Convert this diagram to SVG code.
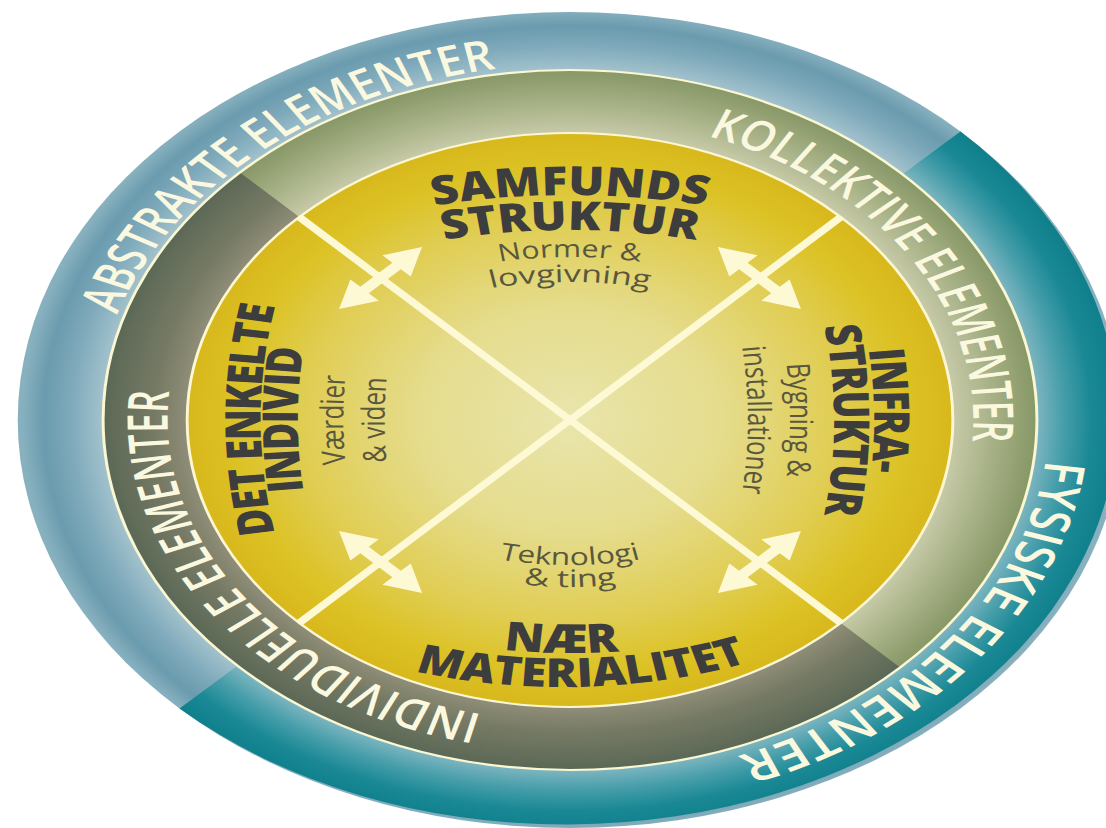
<svg xmlns="http://www.w3.org/2000/svg" width="1106" height="828" viewBox="0 0 1106 828">
<style>
.ring{font-family:"Open Sans","DejaVu Sans",sans-serif;font-weight:600;font-size:42px;fill:#fbf8e0}
.title{font-family:"Open Sans","DejaVu Sans",sans-serif;font-weight:800;font-size:40px;fill:#3d3d3d}
.vtitle{font-family:"Open Sans","DejaVu Sans",sans-serif;font-weight:800;font-size:37px;letter-spacing:-1px;fill:#3d3d3d}
.sub{font-family:"Open Sans","DejaVu Sans",sans-serif;font-weight:400;font-size:24px;fill:#59573d}
.sep{fill:none;stroke:#fbf7d2;stroke-width:2.2}
.diag{stroke:#fdf9d5;stroke-width:6.5;fill:none}
.arrow{fill:#fdf9d5}
</style>
<defs>
<radialGradient id="gBlue" gradientUnits="userSpaceOnUse" cx="0" cy="0" r="411">
<stop offset="0.85" stop-color="#a4c3cd"/>
<stop offset="0.91" stop-color="#7faabb"/>
<stop offset="0.96" stop-color="#6a9bae"/>
<stop offset="1" stop-color="#88b1bf"/>
</radialGradient>
<radialGradient id="gTeal" gradientUnits="userSpaceOnUse" cx="0" cy="0" r="411">
<stop offset="0.85" stop-color="#7fb6c1"/>
<stop offset="0.9" stop-color="#469eaa"/>
<stop offset="0.95" stop-color="#1a8995"/>
<stop offset="1" stop-color="#0e7f8b"/>
</radialGradient>
<radialGradient id="gGreen" gradientUnits="userSpaceOnUse" cx="0" cy="0" r="350">
<stop offset="0.82" stop-color="#c7caa8"/>
<stop offset="0.9" stop-color="#a9b388"/>
<stop offset="1" stop-color="#879766"/>
</radialGradient>
<radialGradient id="gDark" gradientUnits="userSpaceOnUse" cx="0" cy="0" r="350">
<stop offset="0.82" stop-color="#908e78"/>
<stop offset="0.89" stop-color="#767a64"/>
<stop offset="1" stop-color="#5b6856"/>
</radialGradient>
<radialGradient id="gYellow" gradientUnits="userSpaceOnUse" cx="0" cy="0" r="287">
<stop offset="0" stop-color="#e9e5ac"/>
<stop offset="0.4" stop-color="#e5dc8c"/>
<stop offset="0.7" stop-color="#e0cd52"/>
<stop offset="0.88" stop-color="#dcc224"/>
<stop offset="1" stop-color="#d8b81c"/>
</radialGradient>
<path id="pAbs" d="M -273 234.5 A 360 360 0 0 1 271.5 -236.4"/>
<path id="pFys" d="M 226.5 -279.8 A 360 360 0 0 1 -216.6 287.5"/>
<path id="pKol" d="M -160 -256.1 A 302 302 0 0 1 168.9 250.4"/>
<path id="pInd" d="M 173.2 247.4 A 302 302 0 0 1 -181.7 -241.2"/>
<path id="pSam" d="M -321.4 -108 A 500 500 0 0 1 321.4 -108"/>
<path id="pStr" d="M -289.3 -84.7 A 450 450 0 0 1 289.3 -84.7"/>
<path id="pNor" d="M -212.1 -75.1 A 300 300 0 0 1 212.1 -75.1"/>
<path id="pLov" d="M -212.1 -50.1 A 300 300 0 0 1 212.1 -50.1"/>
<path id="pTek" d="M -176.8 71.8 A 250 250 0 0 0 176.8 71.8"/>
<path id="pTing" d="M -176.8 93.8 A 250 250 0 0 0 176.8 93.8"/>
<path id="pNaer" d="M -257.1 139.4 A 400 400 0 0 0 257.1 139.4"/>
<path id="pMat" d="M -257.1 173.4 A 400 400 0 0 0 257.1 173.4"/>
<path id="pDet" d="M -195.8 205.2 A 600 600 0 0 1 -195.8 -205.2"/>
<path id="pIndv" d="M -167.8 205.2 A 600 600 0 0 1 -167.8 -205.2"/>
<path id="pVaer" d="M -133.8 205.2 A 600 600 0 0 1 -133.8 -205.2"/>
<path id="pVid" d="M -102.8 205.2 A 600 600 0 0 1 -102.8 -205.2"/>
<path id="pInf" d="M 191.8 -205.2 A 600 600 0 0 1 191.8 205.2"/>
<path id="pStr2" d="M 161.8 -205.2 A 600 600 0 0 1 161.8 205.2"/>
<path id="pByg" d="M 128.8 -205.2 A 600 600 0 0 1 128.8 205.2"/>
<path id="pIns" d="M 97.2 -205.2 A 600 600 0 0 1 97.2 205.2"/>
</defs>
<rect width="1106" height="828" fill="#ffffff"/>
<g id="diagram" transform="translate(570 420) scale(1.334 1)">
  <g id="ring-outer">
    <ellipse rx="414" ry="408" fill="url(#gBlue)"/>
    <path d="M 292.7 -288.5 A 414 408 0 0 1 -292.7 288.5 Z" fill="url(#gTeal)"/>
    <text class="ring" text-anchor="middle"><textPath href="#pAbs" startOffset="50%" textLength="395" lengthAdjust="spacingAndGlyphs">ABSTRAKTE ELEMENTER</textPath></text>
    <text class="ring" text-anchor="middle"><textPath href="#pFys" startOffset="50%" textLength="395" lengthAdjust="spacingAndGlyphs">FYSISKE ELEMENTER</textPath></text>
  </g>
  <g id="ring-inner">
    <circle r="350" fill="url(#gGreen)"/>
    <path d="M 247.5 247.5 A 350 350 0 0 1 -247.5 -247.5 Z" fill="url(#gDark)"/>
    <circle r="350" class="sep"/>
    <text class="ring" text-anchor="middle"><textPath href="#pKol" startOffset="50%" textLength="391" lengthAdjust="spacingAndGlyphs">KOLLEKTIVE ELEMENTER</textPath></text>
    <text class="ring" text-anchor="middle"><textPath href="#pInd" startOffset="50%" textLength="436" lengthAdjust="spacingAndGlyphs">INDIVIDUELLE ELEMENTER</textPath></text>
  </g>
  <g id="core">
    <circle r="287" fill="url(#gYellow)"/>
    <circle r="287" class="sep"/>
  </g>
  <g id="connectors">
    <line class="diag" x1="-202.9" y1="-202.9" x2="202.9" y2="202.9"/>
    <line class="diag" x1="202.9" y1="-202.9" x2="-202.9" y2="202.9"/>
    <polygon class="arrow" points="-44,0 -17,-15 -17,-4.5 17,-4.5 17,-15 44,0 17,15 17,4.5 -17,4.5 -17,15" transform="translate(-142 -142) rotate(-45)"/>
    <polygon class="arrow" points="-44,0 -17,-15 -17,-4.5 17,-4.5 17,-15 44,0 17,15 17,4.5 -17,4.5 -17,15" transform="translate(142 -142) rotate(45)"/>
    <polygon class="arrow" points="-44,0 -17,-15 -17,-4.5 17,-4.5 17,-15 44,0 17,15 17,4.5 -17,4.5 -17,15" transform="translate(-142 142) rotate(45)"/>
    <polygon class="arrow" points="-44,0 -17,-15 -17,-4.5 17,-4.5 17,-15 44,0 17,15 17,4.5 -17,4.5 -17,15" transform="translate(142 142) rotate(-45)"/>
  </g>
  <g id="node-samfundsstruktur">
    <text class="title" text-anchor="middle"><textPath href="#pSam" startOffset="50%" textLength="205" lengthAdjust="spacingAndGlyphs">SAMFUNDS</textPath></text>
    <text class="title" text-anchor="middle"><textPath href="#pStr" startOffset="50%" textLength="190" lengthAdjust="spacingAndGlyphs">STRUKTUR</textPath></text>
    <text class="sub" text-anchor="middle"><textPath href="#pNor" startOffset="50%" textLength="106" lengthAdjust="spacingAndGlyphs">Normer &amp;</textPath></text>
    <text class="sub" text-anchor="middle"><textPath href="#pLov" startOffset="50%" textLength="119" lengthAdjust="spacingAndGlyphs">lovgivning</textPath></text>
  </g>
  <g id="node-naer-materialitet">
    <text class="sub" text-anchor="middle"><textPath href="#pTek" startOffset="50%" textLength="107" lengthAdjust="spacingAndGlyphs">Teknologi</textPath></text>
    <text class="sub" text-anchor="middle"><textPath href="#pTing" startOffset="50%" textLength="70" lengthAdjust="spacingAndGlyphs">&amp; ting</textPath></text>
    <text class="title" text-anchor="middle"><textPath href="#pNaer" startOffset="272.6" textLength="87" lengthAdjust="spacingAndGlyphs">NÆR</textPath></text>
    <text class="title" text-anchor="middle" transform="rotate(-2)"><textPath href="#pMat" startOffset="50%" textLength="254" lengthAdjust="spacingAndGlyphs">MATERIALITET</textPath></text>
  </g>
  <g id="node-det-enkelte-individ">
    <text class="vtitle" text-anchor="middle"><textPath href="#pDet" startOffset="50%">DET ENKELTE</textPath></text>
    <text class="vtitle" text-anchor="middle"><textPath href="#pIndv" startOffset="50%">INDIVID</textPath></text>
    <text class="sub" text-anchor="middle"><textPath href="#pVaer" startOffset="50%">Værdier</textPath></text>
    <text class="sub" text-anchor="middle"><textPath href="#pVid" startOffset="50%">&amp; viden</textPath></text>
  </g>
  <g id="node-infrastruktur">
    <text class="vtitle" text-anchor="middle"><textPath href="#pInf" startOffset="199.5">INFRA-</textPath></text>
    <text class="vtitle" text-anchor="middle"><textPath href="#pStr2" startOffset="50%">STRUKTUR</textPath></text>
    <text class="sub" text-anchor="middle"><textPath href="#pByg" startOffset="50%">Bygning &amp;</textPath></text>
    <text class="sub" text-anchor="middle"><textPath href="#pIns" startOffset="50%">installationer</textPath></text>
  </g>
</g>
</svg>
